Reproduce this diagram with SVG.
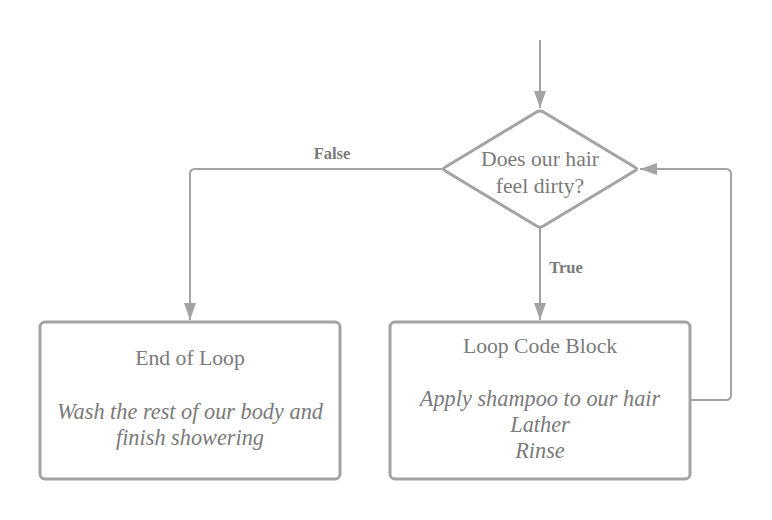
<svg xmlns="http://www.w3.org/2000/svg" width="772" height="520" viewBox="0 0 772 520">
<style>
.shape{fill:#ffffff;stroke:#a3a3a3;stroke-width:3;stroke-linejoin:round}
.conn{fill:none;stroke:#a3a3a3;stroke-width:2;stroke-linejoin:round}
.t{font-family:"Liberation Serif","Times New Roman",serif;font-size:21.7px;fill:#7a7a7a;text-anchor:middle}
.i{font-style:italic;font-size:22.3px}
.lbl{font-family:"Liberation Serif","Times New Roman",serif;font-size:16.5px;font-weight:bold;fill:#7a7a7a;text-anchor:middle}
</style>
<defs>
<marker id="arrow" markerUnits="userSpaceOnUse" markerWidth="18" markerHeight="14" viewBox="0 0 18 14" refX="17" refY="7" orient="auto">
<path d="M0,1 L17,7 L0,13 Z" fill="#a3a3a3"/>
</marker>
</defs>
<rect width="772" height="520" fill="#ffffff"/>
<g id="connectors">
<path class="conn" d="M540,40 L540,108" marker-end="url(#arrow)"/>
<path class="conn" d="M442,169 L195,169 Q190,169 190,174 L190,320" marker-end="url(#arrow)"/>
<path class="conn" d="M540,228 L540,320" marker-end="url(#arrow)"/>
<path class="conn" d="M691,400 L726,400 Q731,400 731,395 L731,174 Q731,169 726,169 L640,169" marker-end="url(#arrow)"/>
<text class="lbl" x="332" y="159">False</text>
<text class="lbl" x="566" y="273">True</text>
</g>
<g id="decision">
<path class="shape" d="M537,111.8 Q540,110 543,111.8 L635,167.2 Q638,169 635,170.8 L543,226.2 Q540,228 537,226.2 L445,170.8 Q442,169 445,167.2 Z"/>
<text class="t" x="540" y="166">Does our hair</text>
<text class="t" x="540" y="193">feel dirty?</text>
</g>
<g id="end-of-loop">
<rect class="shape" x="40" y="322" width="300" height="157" rx="5"/>
<text class="t" x="190" y="365">End of Loop</text>
<text class="t i" x="190" y="419">Wash the rest of our body and</text>
<text class="t i" x="190" y="445">finish showering</text>
</g>
<g id="loop-code-block">
<rect class="shape" x="390" y="322" width="300" height="157" rx="5"/>
<text class="t" x="540" y="353">Loop Code Block</text>
<text class="t i" x="540" y="406">Apply shampoo to our hair</text>
<text class="t i" x="540" y="432">Lather</text>
<text class="t i" x="540" y="458">Rinse</text>
</g>
</svg>
